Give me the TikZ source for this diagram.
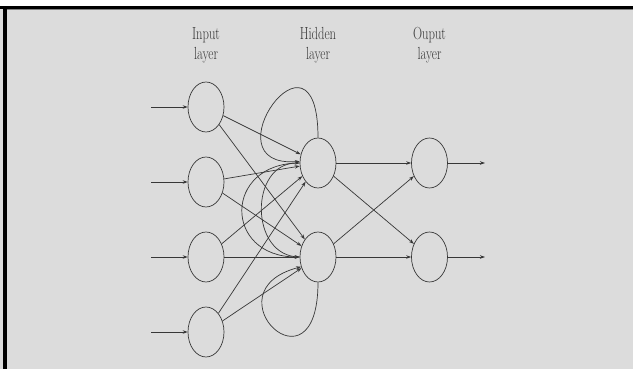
\documentclass[tikz,border=0pt]{standalone}
\usepackage{graphicx}
\usetikzlibrary{shapes.geometric,arrows.meta}
\definecolor{bg}{RGB}{220,220,220}
\definecolor{ln}{RGB}{55,55,55}
\newcommand\sqz[1]{\scalebox{0.72}[1]{#1}}
\begin{document}
\begin{tikzpicture}[x=1pt,y=1pt,
  neuron/.style={draw=ln, line width=0.7pt, ellipse, minimum width=36pt, minimum height=50pt, inner sep=0pt},
  conn/.style={draw=ln, line width=0.7pt, -{Stealth[length=5pt,width=3.5pt]}},
  lbl/.style={text=ln, font=\fontsize{17.5}{21}\selectfont, anchor=base, inner sep=0pt}]
\useasboundingbox (0,0) rectangle (633,-369);
\fill[white] (0,0) rectangle (633,-5.7);
\fill[bg] (0,-5.7) rectangle (633,-369);
\fill[black] (0,-5.7) rectangle (633,-9);
\fill[black] (3.3,-9) rectangle (6.7,-369);
\draw[gray, line width=0.6pt] (6.7,-9.4) -- (633,-9.4);

% labels
\node[lbl] (l1a) at (206,-39.3) {\sqz{Input}};
\node[lbl] (l1b) at (206,-59.5) {\sqz{layer}};
\node[lbl] (l2a) at (318,-39.3) {\sqz{Hidden}};
\node[lbl] (l2b) at (318,-59.5) {\sqz{layer}};
\node[lbl] (l3a) at (429.5,-39.3) {\sqz{Ouput}};
\node[lbl] (l3b) at (429.5,-59.5) {\sqz{layer}};

% neurons
\node[neuron] (I1) at (206,-107) {};
\node[neuron] (I2) at (206,-182) {};
\node[neuron] (I3) at (206,-257) {};
\node[neuron] (I4) at (206,-332) {};
\node[neuron] (H1) at (318,-163) {};
\node[neuron] (H2) at (318,-257) {};
\node[neuron] (O1) at (429.5,-163) {};
\node[neuron] (O2) at (429.5,-257) {};

% inputs
\coordinate (a1) at (151,-107);
\coordinate (a2) at (151,-182);
\coordinate (a3) at (151,-257);
\coordinate (a4) at (151,-332);
\foreach \i in {1,...,4} {\draw[conn] (a\i) -- (I\i);}

% outputs
\coordinate (b1) at (485,-163);
\coordinate (b2) at (485,-257);
\draw[conn] (O1) -- (b1);
\draw[conn] (O2) -- (b2);

% input -> hidden
\foreach \i in {1,...,4} {
  \draw[conn] (I\i) -- (H1);
  \draw[conn] (I\i) -- (H2);
}

% hidden -> output
\draw[conn] (H1) -- (O1);
\draw[conn] (H1) -- (O2);
\draw[conn] (H2) -- (O1);
\draw[conn] (H2) -- (O2);

% recurrent hidden connections
\draw[conn] (H1.west) to[out=180,in=180,looseness=2.09] (H2.west);
\draw[conn] (H2.west) to[out=180,in=180,looseness=1.38] (H1.west);
\draw[conn] (H1.north) .. controls +(0,128) and +(-95,-7) .. (H1.175);
\draw[conn] (H2.south) .. controls +(0,-118) and +(-95,-25) .. (H2.210);
\end{tikzpicture}
\end{document}
